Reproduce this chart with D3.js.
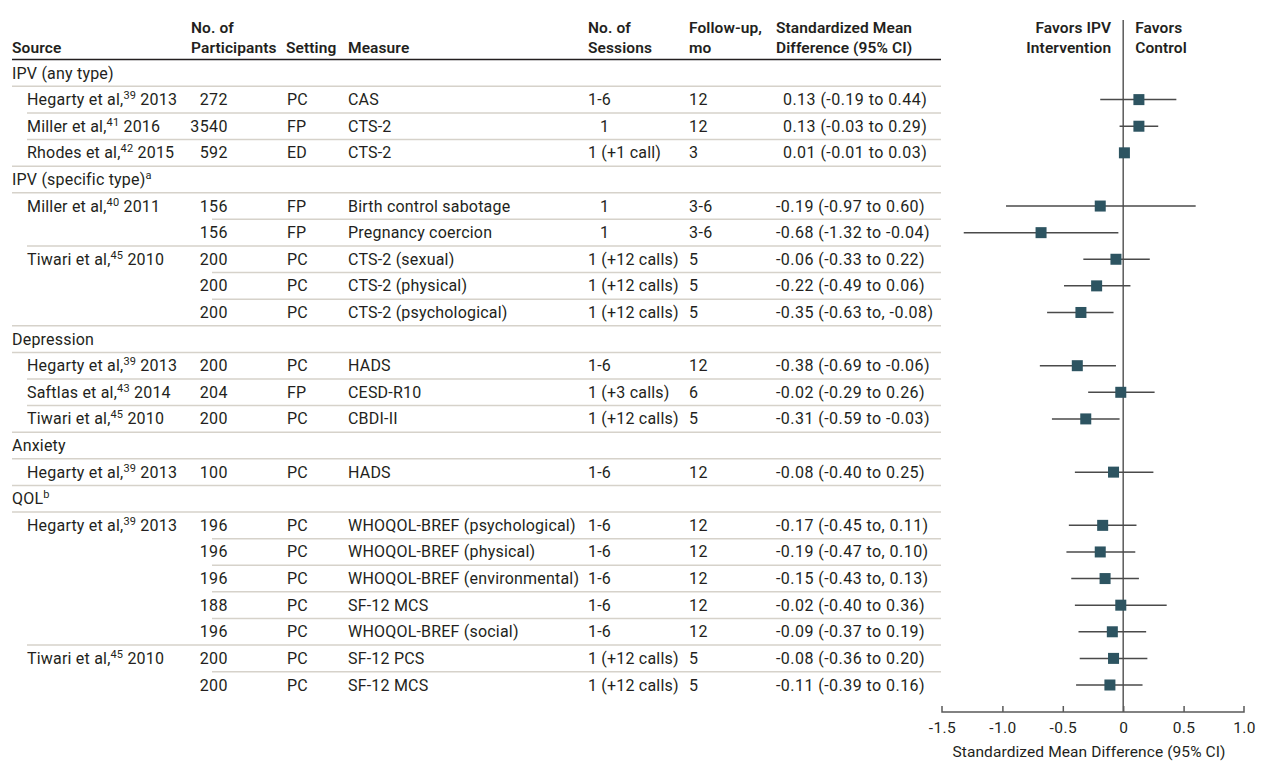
<!DOCTYPE html>
<html>
<head>
<meta charset="utf-8">
<script src="https://cdn.jsdelivr.net/npm/d3@7"></script>
<style>
  body { margin: 0; background: #fff; }
  svg text { font-family: Roboto, "Noto Sans", sans-serif; fill: #231f20; }
  .hdr { font-weight: 600; letter-spacing: 0.1px; }
  .body text { letter-spacing: 0.2px; }
  .body text.num { letter-spacing: 0.45px; }
</style>
</head>
<body>
<div id="forest"></div>
<script>
// DATA
// rows: g = group heading, s = new study, c = continuation of the study above
const rowType = ["g", "s", "s", "s", "g", "s", "c", "s", "c", "c", "g", "s", "s", "s", "g", "s", "g", "s", "c", "c", "c", "c", "s", "c"];
const rowLabel = ["IPV (any type)", "Hegarty et al,", "Miller et al,", "Rhodes et al,", "IPV (specific type)", "Miller et al,", "", "Tiwari et al,", "", "",
  "Depression", "Hegarty et al,", "Saftlas et al,", "Tiwari et al,", "Anxiety", "Hegarty et al,", "QOL", "Hegarty et al,", "", "", "", "", "Tiwari et al,", ""];
const rowSup = ["", "39", "41", "42", "a", "40", "", "45", "", "", "", "39", "43", "45", "", "39", "b", "39", "", "", "", "", "45", ""];
const rowYear = ["", " 2013", " 2016", " 2015", "", " 2011", "", " 2010", "", "", "", " 2013", " 2014", " 2010", "", " 2013", "", " 2013", "", "", "", "", " 2010", ""];

// one entry per outcome row (non-group rows, in order)
const participants = ["272", "3540", "592", "156", "156", "200", "200", "200", "200", "204", "200", "100", "196", "196", "196", "188", "196", "200", "200"];
const settings = ["PC", "FP", "ED", "FP", "FP", "PC", "PC", "PC", "PC", "FP", "PC", "PC", "PC", "PC", "PC", "PC", "PC", "PC", "PC"];
const measures = ["CAS", "CTS-2", "CTS-2", "Birth control sabotage", "Pregnancy coercion", "CTS-2 (sexual)", "CTS-2 (physical)", "CTS-2 (psychological)",
  "HADS", "CESD-R10", "CBDI-II", "HADS", "WHOQOL-BREF (psychological)", "WHOQOL-BREF (physical)", "WHOQOL-BREF (environmental)",
  "SF-12 MCS", "WHOQOL-BREF (social)", "SF-12 PCS", "SF-12 MCS"];
const sessions = ["1-6", "1", "1 (+1 call)", "1", "1", "1 (+12 calls)", "1 (+12 calls)", "1 (+12 calls)", "1-6", "1 (+3 calls)", "1 (+12 calls)",
  "1-6", "1-6", "1-6", "1-6", "1-6", "1-6", "1 (+12 calls)", "1 (+12 calls)"];
const followUp = ["12", "12", "3", "3-6", "3-6", "5", "5", "5", "12", "6", "5", "12", "12", "12", "12", "12", "12", "5", "5"];
const smd = [0.13, 0.13, 0.01, -0.19, -0.68, -0.06, -0.22, -0.35, -0.38, -0.02, -0.31, -0.08, -0.17, -0.19, -0.15, -0.02, -0.09, -0.08, -0.11];
const lower = [-0.19, -0.03, -0.01, -0.97, -1.32, -0.33, -0.49, -0.63, -0.69, -0.29, -0.59, -0.40, -0.45, -0.47, -0.43, -0.40, -0.37, -0.36, -0.39];
const upper = [0.44, 0.29, 0.03, 0.60, -0.04, 0.22, 0.06, -0.08, -0.06, 0.26, -0.03, 0.25, 0.11, 0.10, 0.13, 0.36, 0.19, 0.20, 0.16];
const ciText = ["0.13 (-0.19 to 0.44)", "0.13 (-0.03 to 0.29)", "0.01 (-0.01 to 0.03)", "-0.19 (-0.97 to 0.60)", "-0.68 (-1.32 to -0.04)",
  "-0.06 (-0.33 to 0.22)", "-0.22 (-0.49 to 0.06)", "-0.35 (-0.63 to, -0.08)", "-0.38 (-0.69 to -0.06)", "-0.02 (-0.29 to 0.26)",
  "-0.31 (-0.59 to -0.03)", "-0.08 (-0.40 to 0.25)", "-0.17 (-0.45 to, 0.11)", "-0.19 (-0.47 to, 0.10)", "-0.15 (-0.43 to, 0.13)",
  "-0.02 (-0.40 to 0.36)", "-0.09 (-0.37 to 0.19)", "-0.08 (-0.36 to 0.20)", "-0.11 (-0.39 to 0.16)"];
const tickValues = [-1.5, -1.0, -0.5, 0, 0.5, 1.0];
const tickLabels = ["-1.5", "-1.0", "-0.5", "0", "0.5", "1.0"];

const WIDTH = 1262;
const HEIGHT = 763;
const COL = { group: 12, study: 27, part: 228, setting: 287, measure: 348, sess: 588, fu: 689, ci: 776, tableEnd: 941 };

// CANVAS
const svg = d3
  .select("#forest")
  .append("svg")
  .attr("width", WIDTH)
  .attr("height", HEIGHT);

// SCALES
const y = d3.scaleLinear().domain([0, rowType.length - 1]).range([73, 685]);
const x = d3.scaleLinear().domain([-1.5, 1.0]).range([942, 1244]);
const AXIS_Y = 712;

// attach outcome data to the table rows
const rows = [];
let k = 0;
rowType.forEach((t, i) => {
  const r = { i, type: t, label: rowLabel[i], sup: rowSup[i], year: rowYear[i] };
  if (t !== "g") {
    Object.assign(r, {
      part: participants[k], setting: settings[k], measure: measures[k], sess: sessions[k],
      fu: followUp[k], est: smd[k], lo: lower[k], hi: upper[k], ci: ciText[k]
    });
    k++;
  }
  rows.push(r);
});

// HEADER
const header = svg.append("g").attr("font-size", "15.5px");
const hdrText = [
  { x: COL.group, lines: ["", "Source"] },
  { x: 191, lines: ["No. of", "Participants"] },
  { x: 286, lines: ["", "Setting"] },
  { x: COL.measure, lines: ["", "Measure"] },
  { x: COL.sess, lines: ["No. of", "Sessions"] },
  { x: COL.fu, lines: ["Follow-up,", "mo"] },
  { x: COL.ci, lines: ["Standardized Mean", "Difference (95% CI)"] }
];
hdrText.forEach((h) => {
  h.lines.forEach((l, j) => {
    header.append("text").attr("class", "hdr").attr("x", h.x).attr("y", 33 + j * 20).text(l);
  });
});
[["Favors IPV", "Intervention"], ["Favors", "Control"]].forEach((lines, side) => {
  lines.forEach((l, j) => {
    header.append("text")
      .attr("class", "hdr")
      .attr("x", side === 0 ? x(0) - 12 : x(0) + 12)
      .attr("y", 33 + j * 20)
      .attr("text-anchor", side === 0 ? "end" : "start")
      .text(l);
  });
});

svg.append("line")
  .attr("x1", COL.group).attr("x2", COL.tableEnd)
  .attr("y1", 59.5).attr("y2", 59.5)
  .attr("stroke", "#231f20").attr("stroke-width", 1.5);

// ROW SEPARATORS
const sep = rows.slice(0, -1).map((r) => {
  const next = rows[r.i + 1];
  let x1 = COL.study;
  if (r.type === "g" || next.type === "g") x1 = COL.group;
  else if (next.type === "c") x1 = 212;
  return { i: r.i, x1 };
});
svg.selectAll(".sep")
  .data(sep)
  .enter()
  .append("line")
  .attr("class", "sep")
  .attr("x1", (d) => d.x1)
  .attr("x2", COL.tableEnd)
  .attr("y1", (d) => (y(d.i) + y(d.i + 1)) / 2)
  .attr("y2", (d) => (y(d.i) + y(d.i + 1)) / 2)
  .attr("stroke", "#d6d2ca")
  .attr("stroke-width", 1.5);

// TABLE TEXT
const table = svg.append("g").attr("class", "body").attr("font-size", "16px");
const rowG = table.selectAll(".row")
  .data(rows)
  .enter()
  .append("g")
  .attr("class", "row")
  .attr("transform", (d) => `translate(0, ${y(d.i) + 5.5})`);

const src = rowG.append("text").attr("x", (d) => (d.type === "g" ? COL.group : COL.study));
src.append("tspan").text((d) => d.label);
src.append("tspan")
  .attr("font-size", "11px")
  .attr("baseline-shift", "6px")
  .text((d) => d.sup);
src.append("tspan").attr("class", "num").text((d) => d.year);

const data = rowG.filter((d) => d.type !== "g");
data.append("text").attr("class", "num").attr("x", COL.part).attr("text-anchor", "end").text((d) => d.part);
data.append("text").attr("x", COL.setting).text((d) => d.setting);
data.append("text").attr("x", COL.measure).text((d) => d.measure);
data.append("text")
  .attr("x", (d) => (d.sess === "1" ? COL.sess + 12 : COL.sess))
  .text((d) => d.sess);
data.append("text").attr("class", "num").attr("x", COL.fu).text((d) => d.fu);
data.append("text")
  .attr("class", "num")
  .attr("x", (d) => (d.est >= 0 ? COL.ci + 7 : COL.ci))
  .text((d) => d.ci);

// NULL LINE
svg.append("line")
  .attr("x1", x(0)).attr("x2", x(0))
  .attr("y1", 20).attr("y2", AXIS_Y)
  .attr("stroke", "#5a5a5a").attr("stroke-width", 1.5);

// CI + POINT ESTIMATES
const pts = rows.filter((d) => d.type !== "g");
svg.selectAll(".ci")
  .data(pts)
  .enter()
  .append("line")
  .attr("class", "ci")
  .attr("x1", (d) => x(d.lo))
  .attr("x2", (d) => x(d.hi))
  .attr("y1", (d) => y(d.i))
  .attr("y2", (d) => y(d.i))
  .attr("stroke", "#4a4a4a")
  .attr("stroke-width", 1.5);
svg.selectAll(".est")
  .data(pts)
  .enter()
  .append("rect")
  .attr("class", "est")
  .attr("x", (d) => x(d.est) - 5.5)
  .attr("y", (d) => y(d.i) - 5.5)
  .attr("width", 11)
  .attr("height", 11)
  .attr("fill", "#2d5461");

// AXIS
const axis = svg.append("g")
  .attr("transform", `translate(0, ${AXIS_Y})`)
  .call(d3.axisBottom(x).tickValues(tickValues).tickSize(6).tickSizeOuter(0)
    .tickFormat((d, i) => tickLabels[i]));
axis.select(".domain").attr("stroke", "#5a5a5a").attr("stroke-width", 1.5);
axis.selectAll(".tick line").attr("stroke", "#5a5a5a").attr("stroke-width", 1.5);
axis.selectAll(".tick text")
  .attr("font-size", "15.5px")
  .attr("font-family", "Roboto, sans-serif")
  .attr("letter-spacing", "0.4px")
  .attr("fill", "#231f20")
  .attr("y", 10);
// axis domain points up at ends
axis.select(".domain").attr("d", `M${x(-1.5)},-6V0H${x(1.0)}V-6`);
axis.selectAll(".tick line").attr("y2", -6).filter((d) => d === -1.5 || d === 1.0).remove();

svg.append("text")
  .attr("x", (x(-1.5) + x(1.0)) / 2 - 4)
  .attr("y", 757)
  .attr("text-anchor", "middle")
  .attr("font-size", "15.5px")
  .attr("letter-spacing", "0.1px")
  .text("Standardized Mean Difference (95% CI)");
</script>
</body>
</html>
